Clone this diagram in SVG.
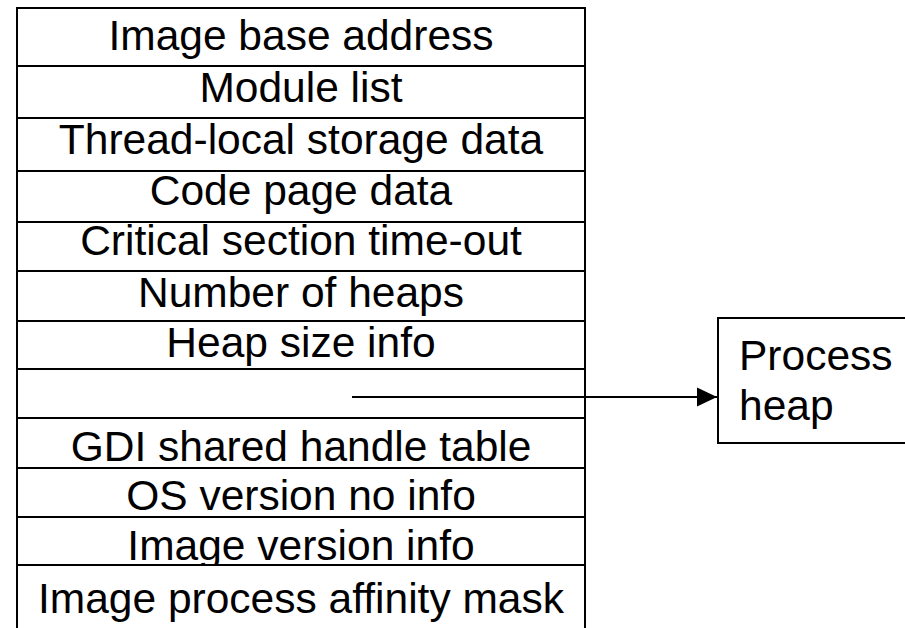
<svg xmlns="http://www.w3.org/2000/svg" width="905" height="628" viewBox="0 0 905 628">
  <style>
    .cell { fill: #ffffff; stroke: #000000; stroke-width: 2; }
    .label { font-family: "Liberation Sans", Arial, sans-serif; font-size: 42.5px; fill: #000000; }
    .mid { text-anchor: middle; }
    .link { stroke: #000000; stroke-width: 2; fill: none; }
  </style>
  <defs>
    <marker id="arrowhead" markerWidth="20" markerHeight="20" refX="20" refY="10" orient="auto" markerUnits="userSpaceOnUse">
      <path d="M0,0.5 L20,10 L0,19.5 Z" fill="#000000"/>
    </marker>
  </defs>

  <rect x="0" y="0" width="905" height="628" fill="#ffffff"/>

  <!-- Process environment block fields -->
  <g id="image-base-address">
    <rect class="cell" x="17" y="8" width="568" height="58"/>
    <text class="label mid" x="301" y="50">Image base address</text>
  </g>
  <g id="module-list">
    <rect class="cell" x="17" y="66" width="568" height="52"/>
    <text class="label mid" x="301" y="102">Module list</text>
  </g>
  <g id="tls-data">
    <rect class="cell" x="17" y="118" width="568" height="53"/>
    <text class="label mid" x="301" y="153.5">Thread-local storage data</text>
  </g>
  <g id="code-page-data">
    <rect class="cell" x="17" y="171" width="568" height="51"/>
    <text class="label mid" x="301" y="204.5">Code page data</text>
  </g>
  <g id="critical-section-timeout">
    <rect class="cell" x="17" y="222" width="568" height="49"/>
    <text class="label mid" x="301" y="255">Critical section time-out</text>
  </g>
  <g id="number-of-heaps">
    <rect class="cell" x="17" y="271" width="568" height="50"/>
    <text class="label mid" x="301" y="307">Number of heaps</text>
  </g>
  <g id="heap-size-info">
    <rect class="cell" x="17" y="321" width="568" height="48"/>
    <text class="label mid" x="301" y="357">Heap size info</text>
  </g>
  <g id="process-heap-pointer">
    <rect class="cell" x="17" y="369" width="568" height="49"/>
  </g>
  <g id="gdi-shared-handle-table">
    <rect class="cell" x="17" y="418" width="568" height="50"/>
    <text class="label mid" x="301" y="461">GDI shared handle table</text>
  </g>
  <g id="os-version-info">
    <rect class="cell" x="17" y="468" width="568" height="49"/>
    <text class="label mid" x="301" y="510">OS version no info</text>
  </g>
  <g id="image-version-info">
    <rect class="cell" x="17" y="517" width="568" height="48"/>
    <text class="label mid" x="301" y="560">Image version info</text>
  </g>
  <g id="affinity-mask">
    <rect class="cell" x="17" y="565" width="568" height="80"/>
    <text class="label mid" x="301" y="613">Image process affinity mask</text>
  </g>

  <!-- Heap block -->
  <g id="process-heap">
    <rect class="cell" x="718" y="318" width="200" height="125"/>
    <text class="label" x="739" y="370">Process</text>
    <text class="label" x="739" y="420">heap</text>
  </g>

  <!-- Connectors -->
  <g id="connectors">
    <line class="link" x1="352" y1="397" x2="717" y2="397" marker-end="url(#arrowhead)"/>
  </g>
</svg>
